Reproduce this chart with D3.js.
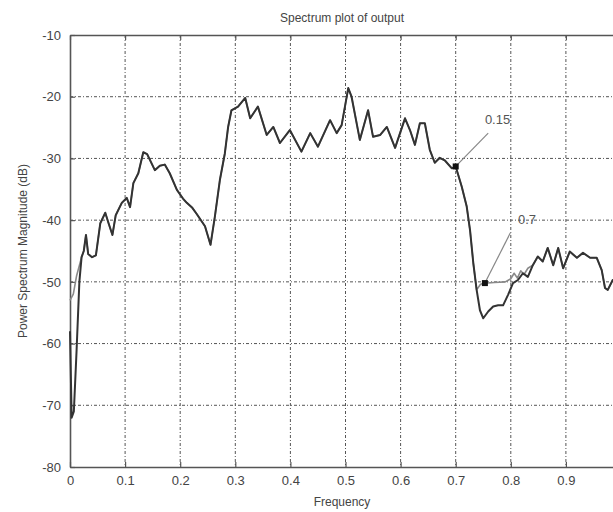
<!DOCTYPE html>
<html>
<head>
<meta charset="utf-8">
<script src="https://cdn.jsdelivr.net/npm/d3@7"></script>
<style>
  body { margin: 0; background: #fff; }
  svg { display: block; font-family: "Liberation Sans", Arial, sans-serif; }
</style>
</head>
<body>
<svg id="chart" width="613" height="512"></svg>
<script>
// #region Data
const xTicks = [0, 0.1, 0.2, 0.3, 0.4, 0.5, 0.6, 0.7, 0.8, 0.9];
const yTicks = [-80, -70, -60, -50, -40, -30, -20, -10];

// curve labelled 0.15 (dark)
const curve015 = [
  [0.000, -58], [0.003, -72], [0.007, -71], [0.012, -61], [0.017, -50],
  [0.021, -46], [0.025, -45], [0.029, -42.4], [0.033, -45.5], [0.040, -46],
  [0.047, -45.7], [0.055, -40.5], [0.064, -38.8], [0.070, -40.5], [0.077, -42.4],
  [0.083, -39.2], [0.094, -37.2], [0.103, -36.4], [0.109, -37.9], [0.115, -34],
  [0.124, -32.4], [0.133, -29], [0.140, -29.3], [0.154, -31.9], [0.163, -31.2],
  [0.172, -31], [0.181, -32.4], [0.194, -35.1], [0.205, -36.5], [0.212, -37.2],
  [0.222, -38], [0.230, -39], [0.245, -41], [0.255, -44], [0.263, -39.4],
  [0.272, -33.5], [0.281, -29.2], [0.287, -24.9], [0.293, -22.2], [0.305, -21.6],
  [0.318, -20.2], [0.327, -23.5], [0.341, -21.6], [0.357, -26.2], [0.369, -24.9],
  [0.381, -27.5], [0.399, -25.4], [0.420, -28.9], [0.436, -25.9], [0.450, -28.1],
  [0.472, -23.8], [0.484, -25.9], [0.493, -24.6], [0.505, -18.6], [0.511, -20],
  [0.526, -27], [0.541, -22.2], [0.550, -26.5], [0.563, -26.2], [0.575, -24.9],
  [0.590, -28.3], [0.608, -23.5], [0.617, -25.4], [0.626, -27.8], [0.635, -24.3],
  [0.644, -24.3], [0.653, -28.6], [0.662, -30.7], [0.671, -29.9], [0.680, -30.3],
  [0.693, -31.6], [0.700, -31.3], [0.711, -34.6], [0.720, -37.8], [0.726, -41.6],
  [0.732, -47], [0.738, -51.3], [0.744, -54.6], [0.750, -55.9], [0.759, -54.8],
  [0.768, -54], [0.777, -53.8], [0.786, -53.8], [0.795, -52.1], [0.804, -50.2],
  [0.813, -49.7], [0.822, -48.6], [0.831, -49.2], [0.840, -47.3], [0.849, -45.9],
  [0.858, -46.7], [0.867, -44.5], [0.877, -47.3], [0.886, -44.5], [0.895, -47.8],
  [0.907, -45.1], [0.920, -46.1], [0.931, -45.3], [0.944, -46.1], [0.956, -46.1],
  [0.965, -48.1], [0.971, -51], [0.976, -51.3], [0.985, -49.7], [1.000, -50]
];

// curve labelled 0.7 (light): only where it leaves the dark one
const curve07Head = [
  [0.000, -53], [0.006, -52], [0.012, -49], [0.018, -47], [0.021, -46]
];
const curve07Dip = [
  [0.738, -51.3], [0.745, -50.4], [0.753, -50.2], [0.770, -50.1], [0.790, -50],
  [0.800, -49.5], [0.806, -48.6], [0.812, -49.4], [0.818, -48.2], [0.824, -48.8],
  [0.831, -47.8], [0.840, -47.3]
];

// annotations: [marker x, marker y, line end x, line end y, label x, label y, text]
const notes = [
  [0.700, -31.3, 0.759, -25.9, 0.753, -24.4, "0.15"],
  [0.753, -50.2, 0.799, -42.1, 0.813, -40.6, "0.7"]
];
// #endregion

const margin = { top: 35, left: 70, bottom: 45 };
const svg = d3.select("#chart");
const height = +svg.attr("height");
const innerHeight = height - margin.top - margin.bottom;

const x = d3.scaleLinear().domain([0, 1]).range([margin.left, margin.left + 551]);
const y = d3.scaleLinear().domain([-80, -10]).range([margin.top + innerHeight, margin.top]);

const x0 = x(0), x1 = x(1), yTop = y(-10), yBot = y(-80);

// grid
const grid = svg.append("g")
  .attr("stroke", "#555")
  .attr("stroke-width", 1)
  .attr("stroke-dasharray", "3,2,1,2");

grid.selectAll("line.v")
  .data(xTicks.filter((d) => d > 0))
  .enter()
  .append("line")
  .attr("x1", (d) => x(d)).attr("x2", (d) => x(d))
  .attr("y1", yTop).attr("y2", yBot);

grid.selectAll("line.h")
  .data(yTicks.filter((d) => d > -80 && d < -10))
  .enter()
  .append("line")
  .attr("x1", x0).attr("x2", x1)
  .attr("y1", (d) => y(d)).attr("y2", (d) => y(d));

// axes, MATLAB style: ticks inside, plain hyphen minus
const fmt = (d) => String(d);
const xAxisBottom = d3.axisBottom(x).tickValues(xTicks).tickSizeInner(-5).tickSizeOuter(0)
  .tickPadding(9).tickFormat(fmt);
const xAxisTop = d3.axisTop(x).tickValues(xTicks).tickSizeInner(-5).tickSizeOuter(0);
const yAxisLeft = d3.axisLeft(y).tickValues(yTicks).tickSizeInner(-5).tickSizeOuter(0)
  .tickPadding(9).tickFormat(fmt);

function styleAxis(g) {
  g.select(".domain").attr("stroke", "#555").attr("stroke-width", 1.6);
  g.selectAll(".tick line").attr("stroke", "#555").attr("stroke-width", 1.2);
  g.selectAll(".tick text")
    .attr("fill", "#444")
    .style("font-size", "13px");
}

svg.append("g").attr("transform", `translate(0,${yBot})`).call(xAxisBottom).call(styleAxis);
svg.append("g").attr("transform", `translate(0,${yTop})`).call(xAxisTop).call(styleAxis)
  .selectAll(".tick text").remove();
svg.append("g").attr("transform", `translate(${x0},0)`).call(yAxisLeft).call(styleAxis);

// curves
const line = d3.line().x((d) => x(d[0])).y((d) => y(d[1]));

const curve07 = curve07Head
  .concat(curve015.filter((d) => d[0] > 0.021 && d[0] < 0.738))
  .concat(curve07Dip)
  .concat(curve015.filter((d) => d[0] > 0.840));

svg.append("path")
  .attr("d", line(curve07))
  .attr("fill", "none")
  .attr("stroke", "#8a8a8a")
  .attr("stroke-width", 1.6)
  .attr("stroke-linejoin", "round");

svg.append("path")
  .attr("d", line(curve015))
  .attr("fill", "none")
  .attr("stroke", "#333")
  .attr("stroke-width", 2)
  .attr("stroke-linejoin", "round");

// annotations
const ann = svg.append("g");
ann.selectAll("line")
  .data(notes)
  .enter()
  .append("line")
  .attr("x1", (d) => x(d[0])).attr("y1", (d) => y(d[1]))
  .attr("x2", (d) => x(d[2])).attr("y2", (d) => y(d[3]))
  .attr("stroke", "#888")
  .attr("stroke-width", 1.2);

ann.selectAll("rect")
  .data(notes)
  .enter()
  .append("rect")
  .attr("x", (d) => x(d[0]) - 3).attr("y", (d) => y(d[1]) - 3)
  .attr("width", 6).attr("height", 6)
  .attr("fill", "#111");

ann.selectAll("text")
  .data(notes)
  .enter()
  .append("text")
  .attr("x", (d) => x(d[4])).attr("y", (d) => y(d[5]))
  .attr("fill", "#555")
  .style("font-size", "13px")
  .text((d) => d[6]);

// titles
svg.append("text")
  .attr("x", 342).attr("y", 22)
  .attr("text-anchor", "middle")
  .attr("fill", "#444")
  .style("font-size", "12px")
  .text("Spectrum plot of output");

svg.append("text")
  .attr("x", 342).attr("y", 506)
  .attr("text-anchor", "middle")
  .attr("fill", "#444")
  .style("font-size", "12px")
  .text("Frequency");

svg.append("text")
  .attr("transform", "rotate(-90)")
  .attr("x", -(yTop + yBot) / 2).attr("y", 27)
  .attr("text-anchor", "middle")
  .attr("fill", "#444")
  .style("font-size", "12px")
  .text("Power Spectrum Magnitude (dB)");
</script>
</body>
</html>
